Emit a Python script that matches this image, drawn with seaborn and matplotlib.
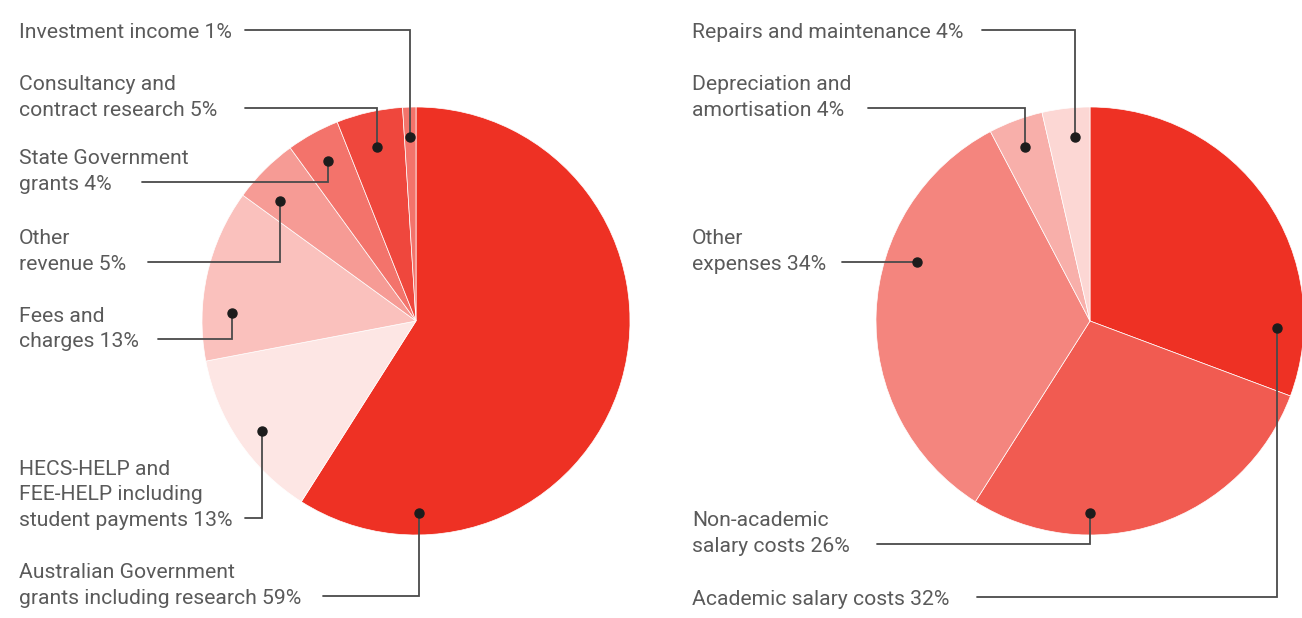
import matplotlib
matplotlib.use("Agg")
import matplotlib.pyplot as plt
import seaborn as sns

# Revenue and expense shares (per cent), clockwise from 12 o'clock
revenue_labels = [
    "Australian Government\ngrants including research 59%",
    "HECS-HELP and\nFEE-HELP including\nstudent payments 13%",
    "Fees and\ncharges 13%",
    "Other\nrevenue 5%",
    "State Government\ngrants 4%",
    "Consultancy and\ncontract research 5%",
    "Investment income 1%",
]
revenue_values = [59, 13, 13, 5, 4, 5, 1]
revenue_colors = ["#EE3124", "#FDE6E4", "#FAC1BD", "#F69B95", "#F3736B", "#EF473D", "#F3736B"]

expense_labels = [
    "Academic salary costs 32%",
    "Non-academic\nsalary costs 26%",
    "Other\nexpenses 34%",
    "Depreciation and\namortisation 4%",
    "Repairs and maintenance 4%",
]
# slice sizes as drawn in the picture
expense_values = [30.7, 28.3, 33.3, 4.1, 3.6]
expense_colors = ["#EE3124", "#F15B51", "#F4857E", "#F8AFAA", "#FCD7D4"]

W, H = 1302, 618
TEXT_COLOR = "#5a5a5a"
LINE_COLOR = "#4a4a4a"
DOT_COLOR = "#1c1c1c"

sns.set_theme(style="white")
plt.rcParams["font.family"] = ["Roboto", "DejaVu Sans"]


def py(y):
    # pixel row (top-down) -> data y (bottom-up)
    return H - y


# label layout in pixels: text x, leader y, leader start x, elbow x, dot y
revenue_layout = [
    (19, 596, 323, 419, 513),
    (19, 518, 245, 262, 431),
    (19, 339, 158, 232, 313),
    (19, 262, 148, 280, 201),
    (19, 182, 142, 328, 161),
    (19, 108, 245, 377, 147),
    (19, 30, 245, 410, 137),
]
expense_layout = [
    (692, 597, 977, 1277, 328),
    (692, 544, 877, 1090, 513),
    (692, 262, 842, 917, 262),
    (692, 108, 868, 1025, 147),
    (692, 30, 982, 1075, 137),
]

fig = plt.figure(figsize=(W / 100, H / 100), dpi=100)
ax = fig.add_axes([0, 0, 1, 1])

for values, colors, cx in [(revenue_values, revenue_colors, 416),
                           (expense_values, expense_colors, 1090)]:
    ax.pie(values, colors=colors, startangle=90, counterclock=False,
           center=(cx, py(321)), radius=214,
           wedgeprops=dict(edgecolor="white", linewidth=0.5))

LINE_H = 25.5
for labels, layout in [(revenue_labels, revenue_layout), (expense_labels, expense_layout)]:
    for label, (tx, ly, sx, ex, dy) in zip(labels, layout):
        lines = label.split("\n")
        n = len(lines)
        for i, line in enumerate(lines):
            base = ly + 8 - (n - 1 - i) * LINE_H
            ax.text(tx, py(base), line, ha="left", va="baseline",
                    fontsize=15.2, fontweight="normal", color=TEXT_COLOR)
        ax.plot([sx, ex, ex], [py(ly), py(ly), py(dy)], color=LINE_COLOR,
                lw=1.3, solid_joinstyle="miter", zorder=3)
        ax.plot([ex], [py(dy)], "o", ms=6.5, color=DOT_COLOR, zorder=4)

ax.set_xlim(0, W)
ax.set_ylim(0, H)
ax.set_aspect("equal")
ax.axis("off")

fig.savefig("out.png", dpi=100)
